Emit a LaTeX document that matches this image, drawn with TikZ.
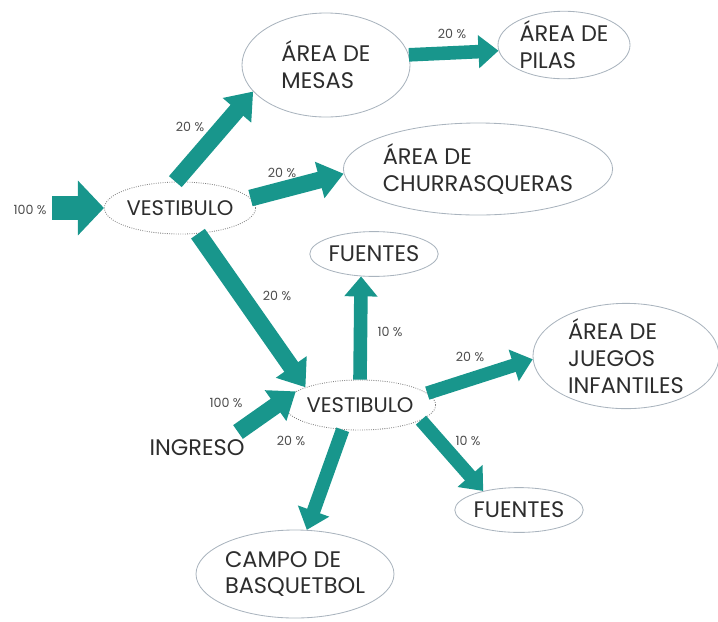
\documentclass[tikz,border=0pt]{standalone}
\usepackage{fontspec}
\setmainfont{Poppins}
\usetikzlibrary{shapes.geometric,arrows.meta}
\definecolor{FlowTeal}{RGB}{24,150,140}
\definecolor{RimGray}{RGB}{170,180,190}
\definecolor{InkGray}{RGB}{45,45,45}
\tikzset{
  zone/.style={ellipse,draw=RimGray,line width=0.6pt,inner sep=0pt,align=left,
    font=\fontsize{16}{19}\selectfont,text=InkGray},
  hall/.style={zone,draw=gray,densely dotted,font=\fontsize{15}{18}\selectfont},
  pct/.style={font=\fontsize{9}{10}\selectfont,text=InkGray!85},
  bigflow/.style={draw=FlowTeal,line width=0.62cm,-{Triangle[length=0.65cm,width=1.33cm]}},
  flow/.style={draw=FlowTeal,line width=0.42cm,-{Triangle[length=0.62cm,width=0.9cm]}},
}
\tikzset{smallflow/.style={draw=FlowTeal,line width=0.34cm,-{Triangle[length=0.5cm,width=0.8cm]}}}

\begin{document}
\begin{tikzpicture}[x=0.025cm,y=-0.025cm]
\useasboundingbox (0,0) rectangle (718,621);
% areas
\node[hall,minimum width=3.6cm,minimum height=1.3cm] (v1) at (180,208) {VESTIBULO};
\node[zone,minimum width=4.2cm,minimum height=2.6cm] (mesas) at (326,65) {ÁREA DE\\MESAS};
\node[zone,minimum width=3.3cm,minimum height=1.65cm] (pilas) at (564,45) {ÁREA DE\\PILAS};
\node[zone,minimum width=6.3cm,minimum height=2.3cm] (churr) at (478,169) {ÁREA DE\\CHURRASQUERAS};
\node[zone,minimum width=3.15cm,minimum height=1.12cm] (fuenA) at (374,254) {FUENTES};
\node[hall,minimum width=3.65cm,minimum height=1.25cm] (v2) at (360,405) {VESTIBULO};
\node[zone,minimum width=4.65cm,minimum height=2.4cm] (juegos) at (626,356) {ÁREA DE\\JUEGOS\\INFANTILES};
\node[zone,minimum width=3.2cm,minimum height=1.12cm] (fuenB) at (519,510) {FUENTES};
\node[zone,minimum width=4.6cm,minimum height=2.2cm] (basq) at (295,574) {CAMPO DE\\BASQUETBOL};
\node[font=\fontsize{16}{19}\selectfont,text=InkGray] (ingreso) at (197,448) {INGRESO};
% flows
\coordinate (in1) at (52,208);
\coordinate (in2) at (238,432);
\draw[bigflow] (in1) -- (v1.west);
\draw[flow] (v1.100) -- (mesas.200);
\draw[flow] (v1.8) -- (churr.182);
\draw[flow] (v1.-55) -- (v2.162);
\draw[smallflow] (mesas.7) -- (pilas.185);
\draw[flow] (in2) -- (v2.168);
\draw[smallflow] (v2.north) -- (fuenA.240);
\draw[smallflow] (v2.10) -- (juegos.182);
\draw[smallflow] (v2.-14) -- (fuenB.152);
\draw[smallflow] (v2.-125) -- (basq.75);
% percentages
\node[pct] (p1) at (30,210) {100 \%};
\node[pct] (p2) at (190,127) {20 \%};
\node[pct] (p3) at (452,34) {20 \%};
\node[pct] (p4) at (282,173) {20 \%};
\node[pct] (p5) at (277,296) {20 \%};
\node[pct] (p6) at (390,332) {10 \%};
\node[pct] (p7) at (226,403) {100 \%};
\node[pct] (p8) at (470,357) {20 \%};
\node[pct] (p9) at (468,441) {10 \%};
\node[pct] (p10) at (291,441) {20 \%};
\end{tikzpicture}
\end{document}
